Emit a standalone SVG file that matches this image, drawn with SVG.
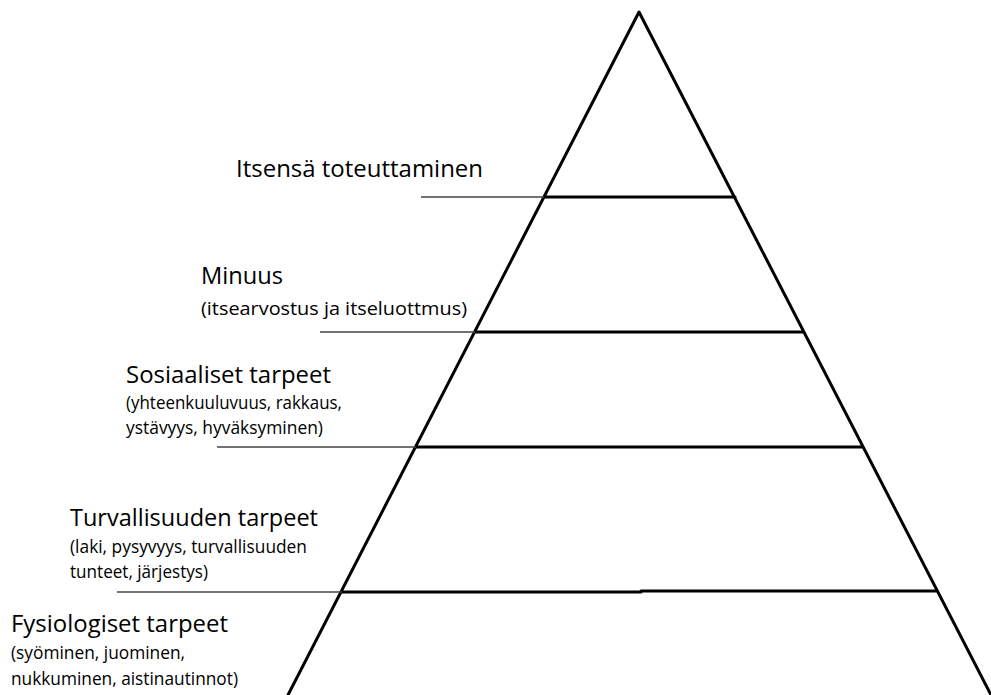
<svg xmlns="http://www.w3.org/2000/svg" width="991" height="695" viewBox="0 0 991 695">
<style>
.edge{stroke:#000;stroke-width:3;fill:none;stroke-linecap:round;stroke-linejoin:round}
.lead{stroke:#444;stroke-width:1.4;fill:none}
.h{font-family:"Open Sans",Lato,"Liberation Sans",sans-serif;font-size:24px;fill:#000}
.s{font-family:"Open Sans",Lato,"Liberation Sans",sans-serif;font-size:18px;fill:#000}
</style>
<rect width="991" height="695" fill="#fff"/>
<g id="connectors">
<path class="edge" d="M288,695 L639,12 L991,695"/>
<line class="edge" x1="544" y1="197" x2="735" y2="197"/>
<line class="edge" x1="475" y1="332" x2="803" y2="332"/>
<line class="edge" x1="416" y1="447" x2="862" y2="447"/>
<line class="edge" x1="342" y1="592" x2="641" y2="592"/>
<line class="edge" x1="641" y1="591" x2="937" y2="591"/>
<line class="lead" x1="421" y1="197" x2="544" y2="197"/>
<line class="lead" x1="320" y1="332" x2="475" y2="332"/>
<line class="lead" x1="217" y1="447" x2="416" y2="447"/>
<line class="lead" x1="117" y1="592" x2="342" y2="592"/>
</g>
<g id="level5">
<text class="h" x="236" y="177" textLength="247" lengthAdjust="spacingAndGlyphs">Itsensä toteuttaminen</text>
</g>
<g id="level4">
<text class="h" x="201" y="284" textLength="82" lengthAdjust="spacingAndGlyphs">Minuus</text>
<text class="s" x="201" y="315" textLength="266" lengthAdjust="spacingAndGlyphs">(itsearvostus ja itseluottmus)</text>
</g>
<g id="level3">
<text class="h" x="126" y="383" textLength="205" lengthAdjust="spacingAndGlyphs">Sosiaaliset tarpeet</text>
<text class="s" x="126" y="409" textLength="216" lengthAdjust="spacingAndGlyphs">(yhteenkuuluvuus, rakkaus,</text>
<text class="s" x="126" y="434" textLength="197" lengthAdjust="spacingAndGlyphs">ystävyys, hyväksyminen)</text>
</g>
<g id="level2">
<text class="h" x="70" y="526" textLength="248" lengthAdjust="spacingAndGlyphs">Turvallisuuden tarpeet</text>
<text class="s" x="70" y="553" textLength="237" lengthAdjust="spacingAndGlyphs">(laki, pysyvyys, turvallisuuden</text>
<text class="s" x="70" y="578" textLength="138" lengthAdjust="spacingAndGlyphs">tunteet, järjestys)</text>
</g>
<g id="level1">
<text class="h" x="11" y="632" textLength="217" lengthAdjust="spacingAndGlyphs">Fysiologiset tarpeet</text>
<text class="s" x="11" y="659" textLength="174" lengthAdjust="spacingAndGlyphs">(syöminen, juominen,</text>
<text class="s" x="11" y="685" textLength="227" lengthAdjust="spacingAndGlyphs">nukkuminen, aistinautinnot)</text>
</g>
</svg>
